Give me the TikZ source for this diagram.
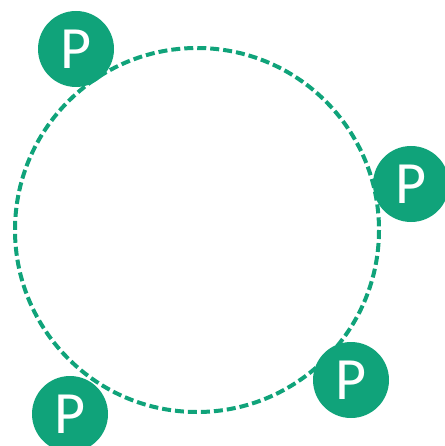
\documentclass[tikz,border=0pt]{standalone}
\usepackage{fontspec}
\setmainfont{Carlito}
\definecolor{pgreen}{RGB}{16,163,122}
\begin{document}
\begin{tikzpicture}[x=1pt,y=-1pt,
  pnode/.style={circle,fill=pgreen,text=white,minimum size=76pt,inner sep=0pt,font=\fontsize{60}{60}\selectfont},
  ring/.style={draw=pgreen,line width=4pt,dash pattern=on 9pt off 4pt}]
\useasboundingbox (0,0) rectangle (444,446);
\coordinate (c) at (197,230);
\draw[ring] (c) circle[radius=182];
\node[pnode] (p1) at (76,49) {P};
\node[pnode] (p2) at (411,184) {P};
\node[pnode] (p3) at (351,380) {P};
\node[pnode] (p4) at (70,414) {P};
\end{tikzpicture}
\end{document}
